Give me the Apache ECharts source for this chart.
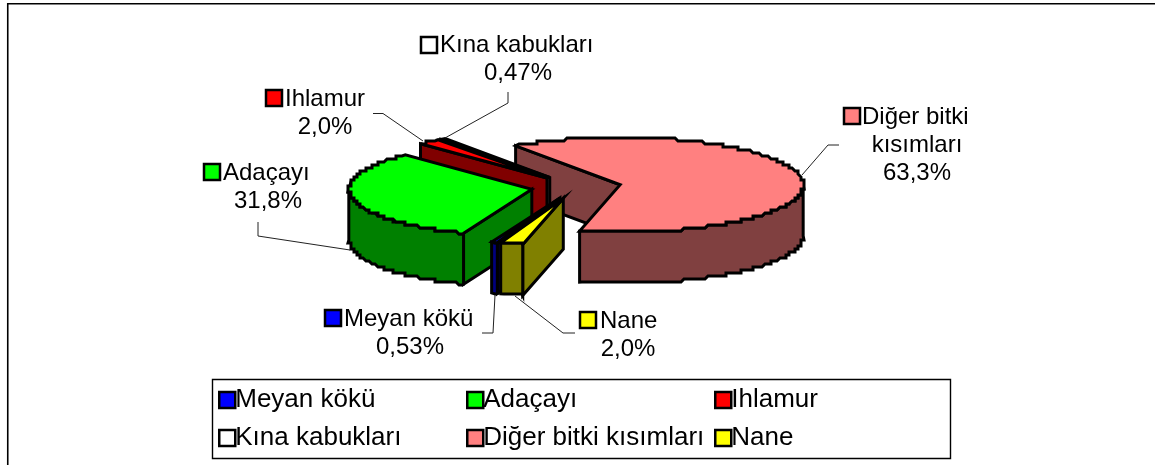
<!DOCTYPE html>
<html><head><meta charset="utf-8">
<style>html,body{margin:0;padding:0;background:#fff}#c{width:1155px;height:465px}</style>
<script src="https://cdn.jsdelivr.net/npm/echarts@6/dist/echarts.min.js"></script>
</head><body><div id="c"></div>
<script>
// Data, in pie (clockwise) order
const categories = ['Meyan kökü','Adaçayı','Ihlamur','Kına kabukları','Diğer bitki kısımları','Nane'];
const values = [0.53,31.8,2.0,0.47,63.3,2.0];
const valueLabels = ['0,53%','31,8%','2,0%','0,47%','63,3%','2,0%'];
const labelNames = [['Meyan kökü'],['Adaçayı'],['Ihlamur'],['Kına kabukları'],['Diğer bitki','kısımları'],['Nane']];
const topColors = ['#0000ff','#00ff00','#ff0000','#ffffff','#ff8080','#ffff00'];
const sideColors = ['#000080','#008000','#800000','#808080','#804040','#808000'];
const paintOrder = [4,3,2,1,0,5];

// Layout
const CX=576, CY=187, RX=183, RY=47.5, DEPTH=51, EXPLODE=45, START=200;
const FS=24, LFS=26, LH=28;
const swatches=[[325,310],[204,164],[266,90],[421,37],[844,108],[580,312]];
const nameLeft=[344,223,285,440,862,600];
const nameY=[319,173,99,45,117,321];
const valueX=[410,268,325,518,917,628];
const leaders = [[[482,333],[493,333],[495,295]],[[258,222],[258,236],[350,250]],[[373,113.5],[383,113.5],[423,141]],[[508,92],[508,103],[445,138]],[[839,145],[828,145],[802,175]],[[575,333],[563,333],[515,296]]];

const total = values.reduce((a,b)=>a+b,0);
const rad=d=>d*Math.PI/180;
const angles=[]; { let a=START; values.forEach(v=>{const s=v/total*360; angles.push([a,a+s]); a+=s;}); }
const snap=v=>Math.round(v/3)*3;
function rimPoints(ax,ay,a0,a1,dy){
  const pts=[]; const n=Math.max(2,Math.ceil((a1-a0)/0.5));
  for(let i=0;i<=n;i++){
    const a=rad(a0+(a1-a0)*i/n);
    const x=snap(ax+RX*Math.sin(a)), y=snap(ay-RY*Math.cos(a));
    const p=[x,y+dy], l=pts[pts.length-1];
    if(!l||l[0]!==p[0]||l[1]!==p[1]) pts.push(p);
  }
  const A0=rad(a0),A1=rad(a1);
  pts[0]=[ax+RX*Math.sin(A0),ay-RY*Math.cos(A0)+dy];
  pts[pts.length-1]=[ax+RX*Math.sin(A1),ay-RY*Math.cos(A1)+dy];
  return pts;
}
const stroke={stroke:'#000',lineWidth:3,lineJoin:'miter'};
function poly(points,fill){return {type:'polygon',shape:{points},style:Object.assign({fill},stroke)};}
function renderSlice(params,api){
  const idx=paintOrder[params.seriesIndex];
  const [a0,a1]=angles[idx];
  const mid=rad((a0+a1)/2);
  const ax=CX+EXPLODE*Math.sin(mid), ay=CY-EXPLODE*(RY/RX)*Math.cos(mid);
  const children=[];
  const wall=(ang)=>{
    const r=rad(ang), px=ax+RX*Math.sin(r), py=ay-RY*Math.cos(r);
    children.push(poly([[ax,ay],[px,py],[px,py+DEPTH],[ax,ay+DEPTH]],sideColors[idx]));
  };
  if(Math.sin(rad(a0))<0) wall(a0);
  if(Math.sin(rad(a1))>0) wall(a1);
  // outer wall: only the front half of the rim (90..270 deg clockwise from top, per turn)
  [[90,270],[450,630]].forEach(([lo,hi])=>{
    const f0=Math.max(a0,lo), f1=Math.min(a1,hi);
    if(f1>f0){
      const up=rimPoints(ax,ay,f0,f1,0), dn=rimPoints(ax,ay,f0,f1,DEPTH).reverse();
      children.push(poly(up.concat(dn),sideColors[idx]));
    }
  });
  children.push(poly([[ax,ay]].concat(rimPoints(ax,ay,a0,a1,0)),topColors[idx]));
  return {type:'group',children};
}
const series = paintOrder.map(i=>({
  type:'custom', name:categories[i], coordinateSystem:'none', silent:true,
  data:[[values[i]]], renderItem:renderSlice,
  itemStyle:{color:topColors[i],borderColor:'#000',borderWidth:2.5}
}));

const TXT={fontFamily:'"Liberation Sans",Arial,sans-serif',fontSize:FS,fill:'#000'};
const graphics=[{type:'polyline',shape:{points:[[7.75,465],[7.75,3.75],[1155,3.75]]},style:{fill:'none',stroke:'#000',lineWidth:1.6},z:0}];
categories.forEach((c,i)=>{
  const names=labelNames[i], y=nameY[i];
  names.forEach((t,k)=>{
    graphics.push(k===0
      ? {type:'text',x:nameLeft[i],y,z:5,style:Object.assign({text:t,textAlign:'left',textVerticalAlign:'middle'},TXT)}
      : {type:'text',x:valueX[i],y:y+k*LH,z:5,style:Object.assign({text:t,textAlign:'center',textVerticalAlign:'middle'},TXT)});
  });
  graphics.push({type:'text',x:valueX[i],y:y+names.length*LH,z:5,style:Object.assign({text:valueLabels[i],textAlign:'center',textVerticalAlign:'middle'},TXT)});
  graphics.push({type:'polyline',z:4,shape:{points:leaders[i]},style:{stroke:'#222',lineWidth:1,fill:'none'}});
  const p=swatches[i];
  graphics.push({type:'rect',z:5,shape:{x:p[0],y:p[1],width:16,height:16},style:{fill:topColors[i],stroke:'#000',lineWidth:2.5}});
});
graphics.push({type:'rect',z:1,shape:{x:212.5,y:379.5,width:738,height:79},style:{fill:'#fff',stroke:'#000',lineWidth:1.4}});

function col(left,items){return {left,top:387,padding:0,orient:'vertical',itemGap:12,itemWidth:16,itemHeight:16,icon:'rect',
  data:items,selectedMode:false,
  textStyle:{fontFamily:'"Liberation Sans",Arial,sans-serif',fontSize:LFS,color:'#000',padding:[0,0,0,-5]},
  itemStyle:{borderColor:'#000',borderWidth:2.5}};}
const chart=echarts.init(document.getElementById('c'),null,{renderer:'canvas'});
chart.setOption({
  animation:false,backgroundColor:'#fff',
  legend:[col(218,[categories[0],categories[3]]),col(466,[categories[1],categories[4]]),col(714,[categories[2],categories[5]])],
  graphic:{elements:graphics},
  series
});
</script></body></html>
